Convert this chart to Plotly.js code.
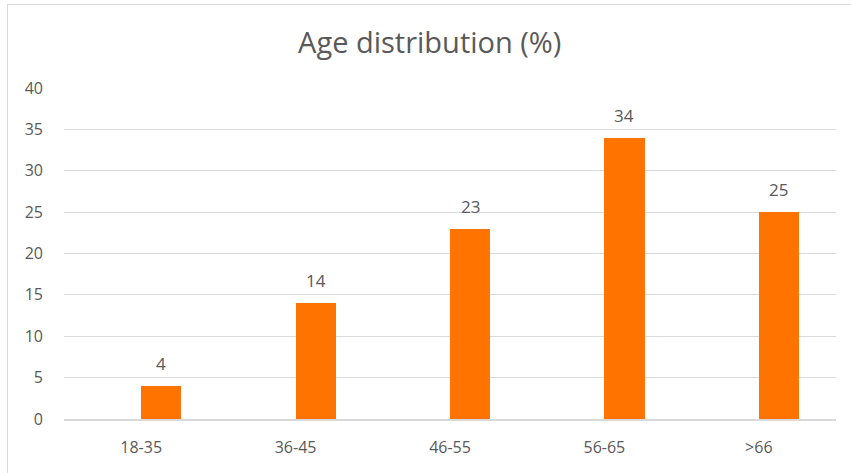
<!DOCTYPE html>
<html>
<head>
<meta charset="utf-8">
<script src="https://cdn.plot.ly/plotly-3.0.1.min.js"></script>
<style>
html,body{margin:0;padding:0;background:#fff;}
#frame{position:absolute;left:7px;top:4px;width:850px;height:475px;border-top:1.5px solid #d9d9d9;border-left:1.5px solid #d9d9d9;box-sizing:border-box;pointer-events:none;z-index:2;}
#chart{position:absolute;left:0;top:0;width:851px;height:473px;}
</style>
</head>
<body>
<div id="chart"></div>
<div id="frame"></div>
<script>
const categories = ["18-35", "36-45", "46-55", "56-65", ">66"];
const values = [4, 14, 23, 34, 25];
const yTicks = [0, 5, 10, 15, 20, 25, 30, 35, 40];
const titleText = "Age distribution (%)";

const textColor = "#595959";
const fontFam = "Open Sans, Liberation Sans, sans-serif";

const trace = {
  type: "bar",
  x: categories,
  y: values,
  offset: 0,
  width: 0.26,
  marker: {color: "#FF7400", line: {width: 0}},
  hoverinfo: "x+y"
};

const annotations = categories.map((c, i) => ({
  x: c, y: values[i], xref: "x", yref: "y",
  text: String(values[i]),
  showarrow: false,
  xanchor: "center", yanchor: "bottom",
  xshift: 20, yshift: 9,
  font: {family: fontFam, size: 17, color: textColor}
}));

const layout = {
  width: 851, height: 473,
  margin: {l: 64, r: 15, t: 88, b: 54},
  paper_bgcolor: "#ffffff",
  plot_bgcolor: "#ffffff",
  showlegend: false,
  title: {
    text: titleText,
    x: 0.505, xanchor: "center",
    y: 0.91, yanchor: "middle",
    font: {family: fontFam, size: 29, color: textColor}
  },
  xaxis: {
    type: "category",
    range: [-0.5, 4.5],
    showgrid: false,
    zeroline: false,
    showline: true,
    linecolor: "#d9d9d9",
    linewidth: 1.5,
    ticks: "",
    ticklabelstandoff: 13,
    tickfont: {family: fontFam, size: 16, color: textColor},
    fixedrange: true
  },
  yaxis: {
    range: [0, 40],
    tickvals: yTicks,
    ticktext: yTicks.map(String),
    showgrid: true,
    gridcolor: "#d9d9d9",
    gridwidth: 1,
    zeroline: false,
    showline: false,
    ticks: "",
    ticklabelstandoff: 20,
    tickfont: {family: fontFam, size: 16, color: textColor},
    fixedrange: true
  },
  annotations: annotations,
  bargap: 0
};

Plotly.newPlot("chart", [trace], layout, {displayModeBar: false, staticPlot: true});
</script>
</body>
</html>
